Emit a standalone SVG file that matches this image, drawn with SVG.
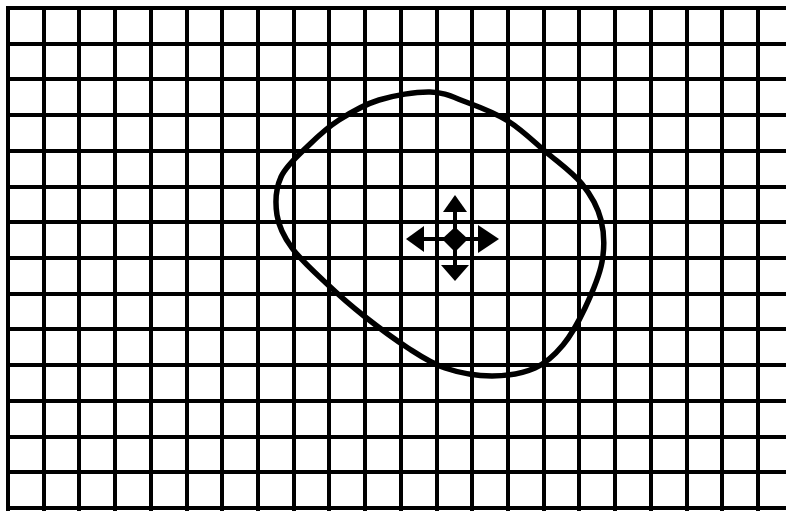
<svg xmlns="http://www.w3.org/2000/svg" width="786" height="511" viewBox="0 0 786 511">
<style>
.grid{stroke:#000;stroke-width:4;fill:none;shape-rendering:crispEdges}
.blob{stroke:#000;stroke-width:5.5;fill:none;stroke-linejoin:round;stroke-linecap:round}
.stem{stroke:#000;stroke-width:4;fill:none}
.head{fill:#000;stroke:none}
</style>
<rect width="786" height="511" fill="#fff"/>
<g id="grid" class="grid">
<path d="M6 8H786M6 43.71H786M6 79.43H786M6 115.14H786M6 150.86H786M6 186.57H786M6 222.29H786M6 258H786M6 293.71H786M6 329.43H786M6 365.14H786M6 400.86H786M6 436.57H786M6 472.29H786M6 508H786"/>
<path d="M8 6V511M43.71 6V511M79.43 6V511M115.14 6V511M150.86 6V511M186.57 6V511M222.29 6V511M258 6V511M293.71 6V511M329.43 6V511M365.14 6V511M400.86 6V511M436.57 6V511M472.29 6V511M508 6V511M543.71 6V511M579.43 6V511M615.14 6V511M650.86 6V511M686.57 6V511M722.29 6V511M758 6V511"/>
</g>
<g id="blob">
<path class="blob" d="M430 92C444.5 92.3 453 97.2 466 102C479 106.8 494.7 112.7 508 121C521.3 129.3 533.7 141.5 546 152C558.3 162.5 572.8 172.7 582 184C591.2 195.3 597.7 207 601 220C604.3 233 604.7 247.3 602 262C599.3 276.7 591.5 294.2 585 308C578.5 321.8 571.3 335 563 345C554.7 355 546.8 362.8 535 368C523.2 373.2 507 376 492 376C477 376 459 372.7 445 368C431 363.3 421.5 356.7 408 348C394.5 339.3 377.7 326.8 364 316C350.3 305.2 338 294.3 326 283C314 271.7 300.2 259.3 292 248C283.8 236.7 278.8 226.8 277 215C275.2 203.2 275.7 188.7 281 177C286.3 165.3 299.3 154.5 309 145C318.7 135.5 327.3 127.5 339 120C350.7 112.5 363.8 104.7 379 100C394.2 95.3 415.5 91.7 430 92Z"/>
</g>
<g id="move-handle">
<path class="stem" d="M412 239H494M455 200V276"/>
<polygon class="head" points="455,227 468,239 455,252 442,239"/>
<polygon class="head" points="455,195 443,212 467,212"/>
<polygon class="head" points="455,281 441,265 469,265"/>
<polygon class="head" points="406,239 424,226 424,252"/>
<polygon class="head" points="499,239 478,225 478,253"/>
</g>
</svg>
